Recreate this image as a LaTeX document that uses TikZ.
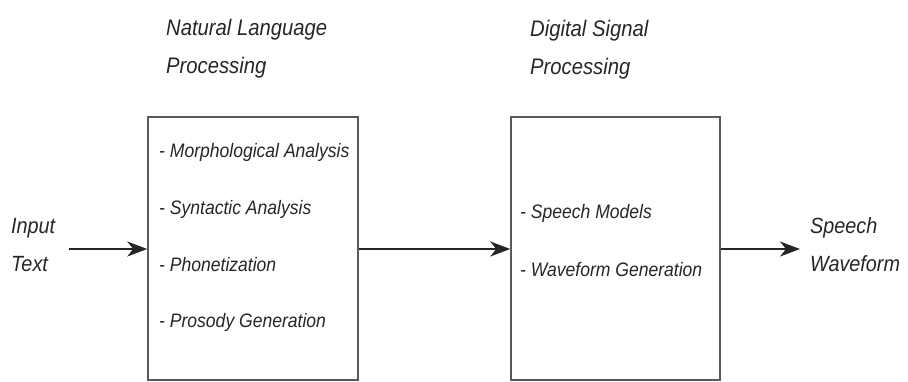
\documentclass[tikz,border=0pt]{standalone}
\usepackage{fontspec}
\setmainfont[FakeStretch=0.9]{Liberation Sans}
\usetikzlibrary{arrows.meta}
\begin{document}
\begin{tikzpicture}[x=1pt,y=-1pt,
  blk/.style={draw=black!65,line width=1.5pt,minimum width=210pt,minimum height=263pt,inner sep=0pt},
  title/.style={anchor=west,align=left,font=\fontsize{22.5}{38}\selectfont\itshape,inner sep=0pt,text=black!85},
  item/.style={anchor=west,font=\fontsize{19.5}{20}\selectfont\itshape,inner sep=0pt,text=black!85},
  io/.style={anchor=west,align=left,font=\fontsize{22}{38}\selectfont\itshape,inner sep=0pt,text=black!85},
  flow/.style={line width=2pt,draw=black!85,-{Stealth[length=20pt,width=15pt,inset=6pt]}}]
\useasboundingbox (0,0) rectangle (908,381);
\node[blk] (nlp) at (253,248.5) {};
\node[blk,minimum width=209pt] (dsp) at (615.5,248.5) {};
\node[title] (t1) at (166,49) {Natural Language\\Processing};
\node[title] (t2) at (530,50) {Digital Signal\\Processing};
\node[item] (m1) at (159,152) {- Morphological Analysis};
\node[item] (m2) at (159,209) {- Syntactic Analysis};
\node[item] (m3) at (159,265) {- Phonetization};
\node[item] (m4) at (159,322) {- Prosody Generation};
\node[item] (d1) at (520,213) {- Speech Models};
\node[item] (d2) at (520,270) {- Waveform Generation};
\node[io] (in) at (11,245) {Input\\Text};
\node[io] (out) at (810,245) {Speech\\Waveform};
\coordinate (a0) at (69,249);
\coordinate (a3) at (800,249);
\draw[flow] (a0) -- (a0 -| nlp.west);
\draw[flow] (nlp.east |- a0) -- (dsp.west |- a0);
\draw[flow] (dsp.east |- a0) -- (a3);
\end{tikzpicture}
\end{document}
